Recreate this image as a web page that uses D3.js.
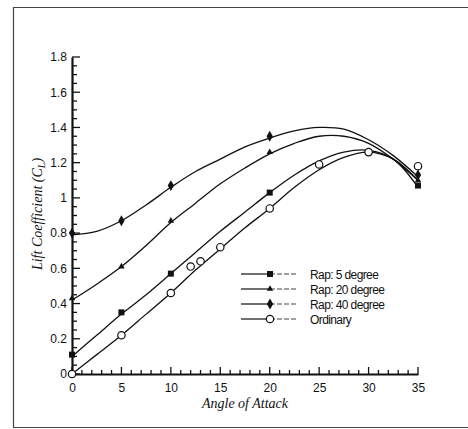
<!DOCTYPE html>
<html><head><meta charset="utf-8">
<script src="https://cdn.jsdelivr.net/npm/d3@7"></script>
<style>body{margin:0;background:#fff}svg{display:block}</style>
</head><body><svg id="c" width="468" height="429"></svg>
<script>
// measured points
const rap5X = [0, 5, 10, 20, 30, 35];
const rap5Y = [0.11, 0.35, 0.57, 1.03, 1.26, 1.07];
const rap20X = [0, 5, 10, 20, 35];
const rap20Y = [0.43, 0.61, 0.87, 1.26, 1.10];
const rap40X = [0, 5, 10, 20, 35];
const rap40Y = [0.80, 0.87, 1.07, 1.35, 1.13];
const ordX = [0, 5, 10, 12, 13, 15, 20, 25, 30, 35];
const ordY = [0.00, 0.22, 0.46, 0.61, 0.64, 0.72, 0.94, 1.19, 1.26, 1.18];
// fitted curves
const fitX = [0, 2.5, 5, 7.5, 10, 12.5, 15, 17.5, 20, 22.5, 25, 27.5, 30, 32.5, 35];
const fit5 = [0.10, 0.22, 0.34, 0.45, 0.57, 0.69, 0.81, 0.92, 1.03, 1.13, 1.21, 1.26, 1.27, 1.22, 1.06];
const fit20 = [0.42, 0.51, 0.61, 0.73, 0.86, 0.97, 1.08, 1.17, 1.25, 1.31, 1.35, 1.35, 1.31, 1.22, 1.10];
const fit40 = [0.79, 0.81, 0.87, 0.96, 1.06, 1.15, 1.22, 1.29, 1.34, 1.38, 1.40, 1.39, 1.33, 1.24, 1.12];
const fitOrd = [0.00, 0.11, 0.22, 0.34, 0.46, 0.59, 0.71, 0.83, 0.94, 1.06, 1.16, 1.23, 1.26, 1.22, 1.10];
const seriesNames = ["Rap: 5 degree", "Rap: 20 degree", "Rap: 40 degree", "Ordinary"];
const xTicks = [0, 5, 10, 15, 20, 25, 30, 35];
const yTicks = [0, 0.2, 0.4, 0.6, 0.8, 1, 1.2, 1.4, 1.6, 1.8];
const xLabel = "Angle of Attack";

const svg = d3.select("#c");
const x = d3.scaleLinear().domain([0, 35]).range([72, 418]);
const y = d3.scaleLinear().domain([0, 1.8]).range([374, 57]);
const ink = "#111";

// frame
svg.append("path").attr("d", "M468,7.5H13.5V427.5H468").attr("fill", "none").attr("stroke", "#444").attr("stroke-width", 1.2);

// minor ticks
const gx = svg.append("g");
d3.range(0, 36, 1).forEach(v => {
  const major = v % 5 === 0;
  gx.append("line").attr("x1", x(v)).attr("x2", x(v)).attr("y1", y(0)).attr("y2", y(0) - (major ? 7 : 4)).attr("stroke", ink).attr("stroke-width", 1.3);
});
d3.range(0, 1.801, 0.05).forEach(v => {
  const major = Math.abs(v / 0.2 - Math.round(v / 0.2)) < 1e-6;
  gx.append("line").attr("y1", y(v)).attr("y2", y(v)).attr("x1", x(0)).attr("x2", x(0) + (major ? 8 : 5)).attr("stroke", ink).attr("stroke-width", 1.3);
});

// axes via d3
const xAxis = svg.append("g").attr("transform", `translate(0,${y(0)})`)
  .call(d3.axisBottom(x).tickValues(xTicks).tickSize(0).tickPadding(9).tickFormat(d3.format("d")));
const yAxis = svg.append("g").attr("transform", `translate(${x(0)},0)`)
  .call(d3.axisLeft(y).tickValues(yTicks).tickSize(0).tickPadding(5).tickFormat(d => d === 0 ? "0" : d3.format("")(+d.toFixed(1))));
[xAxis, yAxis].forEach(g => {
  g.select(".domain").attr("stroke", ink).attr("stroke-width", 2.2);
  g.selectAll("text").attr("font-family", "Liberation Sans, Arial, sans-serif").attr("font-size", 12).attr("fill", ink);
});

// curves
const line = d3.line().x(d => x(d[0])).y(d => y(d[1])).curve(d3.curveCatmullRom.alpha(0.5));
[fit5, fit20, fit40, fitOrd].forEach(arr => {
  svg.append("path").datum(fitX.map((v, i) => [v, arr[i]])).attr("d", line)
    .attr("fill", "none").attr("stroke", ink).attr("stroke-width", 1.3);
});

// markers
function marker(g, type, cx, cy) {
  if (type === "square") g.append("rect").attr("x", cx - 3).attr("y", cy - 3).attr("width", 6).attr("height", 6).attr("fill", ink);
  else if (type === "triangle") g.append("path").attr("d", d3.symbol(d3.symbolTriangle, 18)()).attr("transform", `translate(${cx},${cy})`).attr("fill", ink);
  else if (type === "diamond") g.append("path").attr("d", d3.symbol(d3.symbolDiamond, 34)()).attr("transform", `translate(${cx},${cy})`).attr("fill", ink);
  else g.append("circle").attr("cx", cx).attr("cy", cy).attr("r", 3.7).attr("fill", "#fff").attr("stroke", ink).attr("stroke-width", 1.2);
}
const mg = svg.append("g");
const sets = [[rap5X, rap5Y, "square"], [rap20X, rap20Y, "triangle"], [rap40X, rap40Y, "diamond"], [ordX, ordY, "circle"]];
sets.forEach(([xs, ys, t]) => xs.forEach((v, i) => marker(mg, t, x(v), y(ys[i]))));

// legend
const types = ["square", "triangle", "diamond", "circle"];
const lg = svg.append("g");
seriesNames.forEach((n, i) => {
  const ly = 274 + i * 15;
  lg.append("line").attr("x1", 241).attr("x2", 270).attr("y1", ly).attr("y2", ly).attr("stroke", ink).attr("stroke-width", 1.2);
  lg.append("line").attr("x1", 270).attr("x2", 296).attr("y1", ly).attr("y2", ly).attr("stroke", ink).attr("stroke-width", 0.8).attr("stroke-dasharray", "5,2");
  marker(lg, types[i], 270, ly);
  lg.append("text").attr("x", 310).attr("y", ly + 4.5).text(n)
    .attr("font-family", "Liberation Sans, Arial, sans-serif").attr("font-size", 12).attr("letter-spacing", -0.6).attr("fill", ink);
});

// axis titles
svg.append("text").attr("x", 245).attr("y", 408).attr("text-anchor", "middle").text(xLabel)
  .attr("font-family", "Liberation Serif, serif").attr("font-style", "italic").attr("font-size", 14).attr("fill", ink);
const yt = svg.append("text").attr("transform", "translate(42,214) rotate(-90)").attr("text-anchor", "middle")
  .attr("font-family", "Liberation Serif, serif").attr("font-style", "italic").attr("font-size", 14).attr("fill", ink);
yt.append("tspan").text("Lift Coefficient (C");
yt.append("tspan").attr("font-size", 10).attr("dy", 3).text("L");
yt.append("tspan").attr("dy", -3).text(")");
</script></body></html>
